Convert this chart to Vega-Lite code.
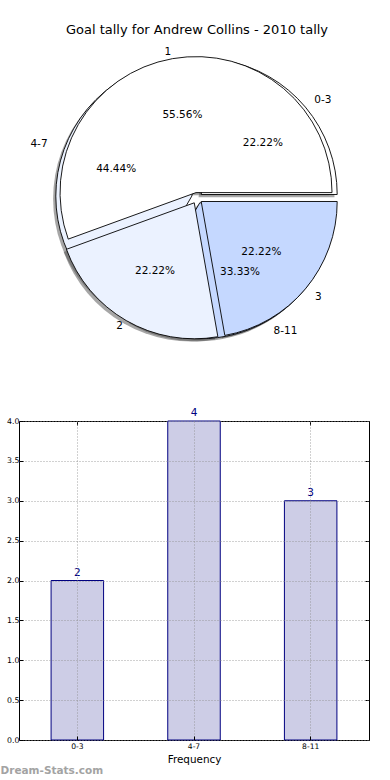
{
  "$schema": "https://vega.github.io/schema/vega-lite/v6.json",
  "background": "white",
  "padding": {"left": 0, "top": 24, "right": 0, "bottom": 2},
  "bounds": "flush",
  "spacing": 65,
  "config": {"font": "DejaVu Sans", "view": {"stroke": null}},
  "title": {"text": "Dream-Stats.com", "orient": "bottom", "anchor": "start", "frame": "bounds", "offset": 1, "fontSize": 10.5, "font": "DejaVu Sans", "fontWeight": "bold", "color": "#a3a3a3"},
  "datasets": {
    "slices": [
      {"pie": "A", "label": "0-3", "value": 2, "order": 1, "pct": "22.22%"},
      {"pie": "A", "label": "4-7", "value": 4, "order": 2, "pct": "44.44%"},
      {"pie": "A", "label": "8-11", "value": 3, "order": 3, "pct": "33.33%"},
      {"pie": "B", "label": "1", "value": 5, "order": 1, "pct": "55.56%"},
      {"pie": "B", "label": "2", "value": 2, "order": 2, "pct": "22.22%"},
      {"pie": "B", "label": "3", "value": 2, "order": 3, "pct": "22.22%"}
    ],
    "bars": [
      {"bin": "0-3", "count": 2},
      {"bin": "4-7", "count": 4},
      {"bin": "8-11", "count": 3}
    ]
  },
  "vconcat": [
    {
      "width": 356,
      "height": 316,
      "title": {"text": "Goal tally for Andrew Collins - 2010 tally", "fontSize": 13, "font": "DejaVu Sans", "fontWeight": "normal", "color": "black", "offset": 3, "anchor": "middle"},
      "data": {"name": "slices"},
      "transform": [
        {"stack": "value", "groupby": ["pie"], "sort": [{"field": "order", "order": "ascending"}], "as": ["v0", "v1"]}
      ],
      "layer": [
        {"transform": [{"filter": "datum.label == '0-3'"}], "mark": {"type": "arc", "radius": 136, "xOffset": 1.5, "yOffset": -0.8, "fill": "#4d4d4d", "fillOpacity": 0.5}, "encoding": {"theta": {"field": "v0", "type": "quantitative", "scale": {"type": "linear", "domain": [0, 9], "range": [1.5708, -4.7124], "zero": false, "nice": false}}, "theta2": {"field": "v1"}}},
        {"transform": [{"filter": "datum.label == '4-7'"}], "mark": {"type": "arc", "radius": 136, "xOffset": -7.9, "yOffset": 0.8, "fill": "#4d4d4d", "fillOpacity": 0.5}, "encoding": {"theta": {"field": "v0", "type": "quantitative", "scale": {"type": "linear", "domain": [0, 9], "range": [1.5708, -4.7124], "zero": false, "nice": false}}, "theta2": {"field": "v1"}}},
        {"transform": [{"filter": "datum.label == '8-11'"}], "mark": {"type": "arc", "radius": 136, "xOffset": 0.05, "yOffset": 7.5, "fill": "#4d4d4d", "fillOpacity": 0.5}, "encoding": {"theta": {"field": "v0", "type": "quantitative", "scale": {"type": "linear", "domain": [0, 9], "range": [1.5708, -4.7124], "zero": false, "nice": false}}, "theta2": {"field": "v1"}}},
        {"transform": [{"filter": "datum.label == '1'"}], "mark": {"type": "arc", "radius": 136, "xOffset": -3.7, "yOffset": -2.7, "fill": "#4d4d4d", "fillOpacity": 0.5}, "encoding": {"theta": {"field": "v0", "type": "quantitative", "scale": {"type": "linear", "domain": [0, 9], "range": [1.5708, -4.7124], "zero": false, "nice": false}}, "theta2": {"field": "v1"}}},
        {"transform": [{"filter": "datum.label == '2'"}], "mark": {"type": "arc", "radius": 136, "xOffset": -5.5, "yOffset": 7.5, "fill": "#4d4d4d", "fillOpacity": 0.5}, "encoding": {"theta": {"field": "v0", "type": "quantitative", "scale": {"type": "linear", "domain": [0, 9], "range": [1.5708, -4.7124], "zero": false, "nice": false}}, "theta2": {"field": "v1"}}},
        {"transform": [{"filter": "datum.label == '3'"}], "mark": {"type": "arc", "radius": 136, "xOffset": 1.5, "yOffset": 6.2, "fill": "#4d4d4d", "fillOpacity": 0.5}, "encoding": {"theta": {"field": "v0", "type": "quantitative", "scale": {"type": "linear", "domain": [0, 9], "range": [1.5708, -4.7124], "zero": false, "nice": false}}, "theta2": {"field": "v1"}}},

        {"transform": [{"filter": "datum.label == '0-3'"}], "mark": {"type": "arc", "radius": 136, "xOffset": 4.2, "yOffset": -3.5, "stroke": "black", "strokeWidth": 0.9, "strokeJoin": "miter"}, "encoding": {"theta": {"field": "v0", "type": "quantitative", "scale": {"type": "linear", "domain": [0, 9], "range": [1.5708, -4.7124], "zero": false, "nice": false}}, "theta2": {"field": "v1"}, "color": {"field": "order", "type": "nominal", "scale": {"domain": [1, 2, 3], "range": ["#ffffff", "#ebf2ff", "#c5d8ff"]}, "legend": null}}},
        {"transform": [{"filter": "datum.label == '4-7'"}], "mark": {"type": "arc", "radius": 136, "xOffset": -5.2, "yOffset": -1.9, "stroke": "black", "strokeWidth": 0.9, "strokeJoin": "miter"}, "encoding": {"theta": {"field": "v0", "type": "quantitative", "scale": {"type": "linear", "domain": [0, 9], "range": [1.5708, -4.7124], "zero": false, "nice": false}}, "theta2": {"field": "v1"}, "color": {"field": "order", "type": "nominal", "scale": {"domain": [1, 2, 3], "range": ["#ffffff", "#ebf2ff", "#c5d8ff"]}, "legend": null}}},
        {"transform": [{"filter": "datum.label == '8-11'"}], "mark": {"type": "arc", "radius": 136, "xOffset": 2.75, "yOffset": 4.8, "stroke": "black", "strokeWidth": 0.9, "strokeJoin": "miter"}, "encoding": {"theta": {"field": "v0", "type": "quantitative", "scale": {"type": "linear", "domain": [0, 9], "range": [1.5708, -4.7124], "zero": false, "nice": false}}, "theta2": {"field": "v1"}, "color": {"field": "order", "type": "nominal", "scale": {"domain": [1, 2, 3], "range": ["#ffffff", "#ebf2ff", "#c5d8ff"]}, "legend": null}}},
        {"transform": [{"filter": "datum.label == '1'"}], "mark": {"type": "arc", "radius": 136, "xOffset": -0.96, "yOffset": -5.4, "stroke": "black", "strokeWidth": 0.9, "strokeJoin": "miter"}, "encoding": {"theta": {"field": "v0", "type": "quantitative", "scale": {"type": "linear", "domain": [0, 9], "range": [1.5708, -4.7124], "zero": false, "nice": false}}, "theta2": {"field": "v1"}, "color": {"field": "order", "type": "nominal", "scale": {"domain": [1, 2, 3], "range": ["#ffffff", "#ebf2ff", "#c5d8ff"]}, "legend": null}}},
        {"transform": [{"filter": "datum.label == '2'"}], "mark": {"type": "arc", "radius": 136, "xOffset": -2.75, "yOffset": 4.8, "stroke": "black", "strokeWidth": 0.9, "strokeJoin": "miter"}, "encoding": {"theta": {"field": "v0", "type": "quantitative", "scale": {"type": "linear", "domain": [0, 9], "range": [1.5708, -4.7124], "zero": false, "nice": false}}, "theta2": {"field": "v1"}, "color": {"field": "order", "type": "nominal", "scale": {"domain": [1, 2, 3], "range": ["#ffffff", "#ebf2ff", "#c5d8ff"]}, "legend": null}}},
        {"transform": [{"filter": "datum.label == '3'"}], "mark": {"type": "arc", "radius": 136, "xOffset": 4.2, "yOffset": 3.5, "stroke": "black", "strokeWidth": 0.9, "strokeJoin": "miter"}, "encoding": {"theta": {"field": "v0", "type": "quantitative", "scale": {"type": "linear", "domain": [0, 9], "range": [1.5708, -4.7124], "zero": false, "nice": false}}, "theta2": {"field": "v1"}, "color": {"field": "order", "type": "nominal", "scale": {"domain": [1, 2, 3], "range": ["#ffffff", "#ebf2ff", "#c5d8ff"]}, "legend": null}}},

        {"transform": [{"filter": "datum.pie == 'A'"}], "mark": {"type": "text", "radius": 153, "align": "left", "baseline": "middle", "fontSize": 10.5, "color": "black"}, "encoding": {"theta": {"field": "value", "type": "quantitative", "stack": true, "scale": {"type": "linear", "domain": [0, 9], "range": [1.5708, -4.7124], "zero": false, "nice": false}}, "order": {"field": "order", "type": "quantitative"}, "text": {"condition": {"test": "datum.label != '4-7'", "field": "label"}, "value": ""}}},
        {"transform": [{"filter": "datum.pie == 'A'"}], "mark": {"type": "text", "radius": 159, "align": "right", "baseline": "middle", "fontSize": 10.5, "color": "black"}, "encoding": {"theta": {"field": "value", "type": "quantitative", "stack": true, "scale": {"type": "linear", "domain": [0, 9], "range": [1.5708, -4.7124], "zero": false, "nice": false}}, "order": {"field": "order", "type": "quantitative"}, "text": {"condition": {"test": "datum.label == '4-7'", "field": "label"}, "value": ""}}},
        {"transform": [{"filter": "datum.pie == 'B'"}], "mark": {"type": "text", "radius": 154, "align": "left", "baseline": "middle", "fontSize": 10.5, "color": "black"}, "encoding": {"theta": {"field": "value", "type": "quantitative", "stack": true, "scale": {"type": "linear", "domain": [0, 9], "range": [1.5708, -4.7124], "zero": false, "nice": false}}, "order": {"field": "order", "type": "quantitative"}, "text": {"condition": {"test": "datum.label == '3'", "field": "label"}, "value": ""}}},
        {"transform": [{"filter": "datum.pie == 'B'"}], "mark": {"type": "text", "radius": 148, "align": "right", "baseline": "middle", "fontSize": 10.5, "color": "black"}, "encoding": {"theta": {"field": "value", "type": "quantitative", "stack": true, "scale": {"type": "linear", "domain": [0, 9], "range": [1.5708, -4.7124], "zero": false, "nice": false}}, "order": {"field": "order", "type": "quantitative"}, "text": {"condition": {"test": "datum.label != '3'", "field": "label"}, "value": ""}}},
        {"transform": [{"filter": "datum.pie == 'A'"}], "mark": {"type": "text", "radius": 86, "align": "center", "baseline": "middle", "fontSize": 10.5, "color": "black"}, "encoding": {"theta": {"field": "value", "type": "quantitative", "stack": true, "scale": {"type": "linear", "domain": [0, 9], "range": [1.5708, -4.7124], "zero": false, "nice": false}}, "order": {"field": "order", "type": "quantitative"}, "text": {"field": "pct"}}},
        {"transform": [{"filter": "datum.pie == 'B'"}], "mark": {"type": "text", "radius": 84, "align": "center", "baseline": "middle", "fontSize": 10.5, "color": "black"}, "encoding": {"theta": {"field": "value", "type": "quantitative", "stack": true, "scale": {"type": "linear", "domain": [0, 9], "range": [1.5708, -4.7124], "zero": false, "nice": false}}, "order": {"field": "order", "type": "quantitative"}, "text": {"field": "pct"}}}
      ]
    },
    {
      "width": 350,
      "height": 319,
      "view": {"stroke": "black", "strokeWidth": 1},
      "data": {"name": "bars"},
      "layer": [
        {
          "mark": {"type": "bar", "width": {"band": 0.45}, "fill": "#cdcde6", "stroke": "#000080", "strokeWidth": 1},
          "encoding": {
            "x": {"field": "bin", "type": "nominal", "sort": null, "scale": {"paddingInner": 0, "paddingOuter": 0},
                  "axis": {"orient": "bottom", "labelAngle": 0, "labelFontSize": 7.6, "labelColor": "black", "labelPadding": 6.5, "ticks": true, "tickSize": -4, "tickColor": "black", "domain": false, "grid": true, "gridColor": "#8c8c8c", "gridDash": [1, 2], "gridWidth": 0.8, "title": "Frequency", "titleFontSize": 10.4, "titleFontWeight": "normal", "titleColor": "black", "titlePadding": 4, "zindex": 1}},
            "y": {"field": "count", "type": "quantitative", "scale": {"domain": [0, 4], "nice": false, "zero": true},
                  "axis": {"orient": "left", "values": [0, 0.5, 1, 1.5, 2, 2.5, 3, 3.5, 4], "format": ".1f", "labelFontSize": 7.8, "labelColor": "black", "labelPadding": 4, "tickSize": -4, "tickColor": "black", "domain": false, "grid": true, "gridColor": "#8c8c8c", "gridDash": [1, 2], "gridWidth": 0.8, "title": null, "minExtent": 18, "maxExtent": 18, "zindex": 1}}
          }
        },
        {
          "mark": {"type": "text", "baseline": "bottom", "dy": -3, "fontSize": 10.5, "color": "#000080"},
          "encoding": {
            "x": {"field": "bin", "type": "nominal", "sort": null,
                  "axis": {"orient": "top", "labels": false, "domain": false, "grid": false, "tickSize": -4, "tickColor": "black", "title": null}},
            "y": {"field": "count", "type": "quantitative",
                  "axis": {"orient": "right", "values": [0, 0.5, 1, 1.5, 2, 2.5, 3, 3.5, 4], "labels": false, "domain": false, "grid": false, "tickSize": -4, "tickColor": "black", "title": null}},
            "text": {"field": "count", "type": "quantitative"}
          }
        }
      ],
      "resolve": {"axis": {"x": "independent", "y": "independent"}}
    }
  ]
}
